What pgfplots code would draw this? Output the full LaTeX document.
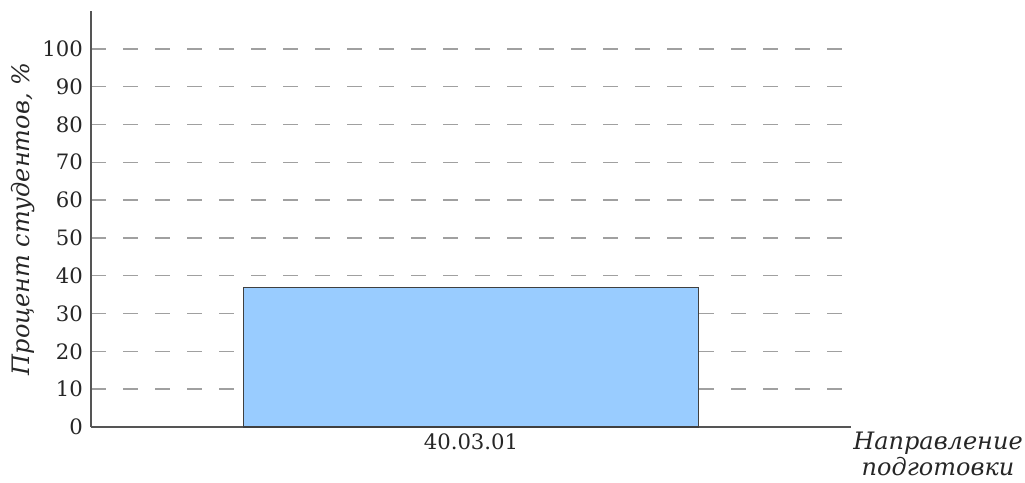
\documentclass[border=0pt]{standalone}
\usepackage{pgfplots}
\pgfplotsset{compat=1.18}
\usepackage{fontspec}
\setmainfont{DejaVu Serif}
\definecolor{barblue}{HTML}{99CCFF}
\definecolor{axisgray}{HTML}{555555}
\definecolor{gridgray}{HTML}{A0A0A0}
\begin{document}
\begin{tikzpicture}
\begin{axis}[
	name=ax,
	scale only axis,
	width=380pt, height=208pt,
	xmin=0, xmax=1, ymin=0, ymax=110,
	axis lines=left,
	axis line style={axisgray, line width=0.75pt, -},
	xtick={0.5}, xticklabels={40.03.01},
	ytick={0,10,...,100},
	major tick length=0pt,
	ymajorgrids,
	grid style={gridgray, line width=0.7pt, dash pattern=on 7.5pt off 8.5pt},
	tick label style={font=\fontsize{10.6}{12}\selectfont, text=black!85},
	/pgf/number format/assume math mode=true,
	yticklabel style={xshift=-0.5pt},
	ylabel={\itshape Процент студентов, \%},
	ylabel style={font=\fontsize{12}{14}\selectfont, text=black!85, yshift=-3pt},
	clip=false,
]
\addplot[ybar, bar width=227.5pt, fill=barblue, draw=black!75, line width=0.6pt] coordinates {(0.5,36.8)};
\end{axis}
\node[anchor=north west, align=center, font=\fontsize{12}{13}\selectfont\itshape, text=black!85, inner sep=0pt] at ([xshift=1pt,yshift=-2.5pt]ax.south east) {Направление\\подготовки};
\path ([xshift=-45.5pt,yshift=-27.5pt]ax.south west) rectangle ([xshift=87pt,yshift=5.5pt]ax.north east);
\end{tikzpicture}
\end{document}
